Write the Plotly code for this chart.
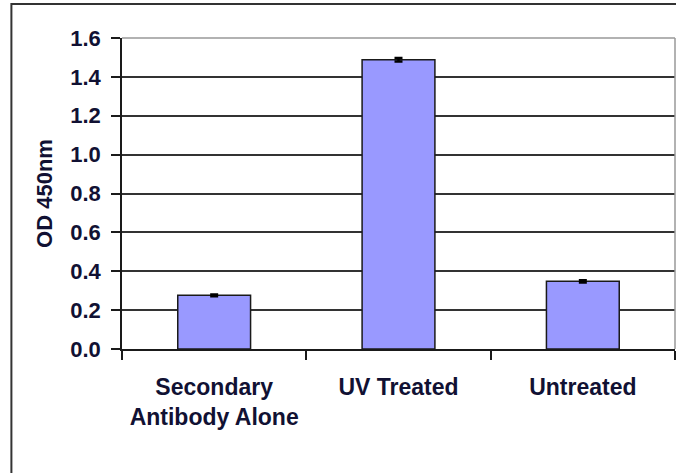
import plotly.graph_objects as go

categories = ["Secondary<br>Antibody Alone", "UV Treated", "Untreated"]
od_values = [0.276, 1.488, 0.348]
od_errors = [0.005, 0.009, 0.006]
y_ticks = [0.0, 0.2, 0.4, 0.6, 0.8, 1.0, 1.2, 1.4, 1.6]

text_color = "#111133"
font_family = "Liberation Sans, Arial, sans-serif"

fig = go.Figure()
fig.add_trace(go.Bar(
    x=categories,
    y=od_values,
    marker=dict(color="#9999FF", line=dict(color="#1a1a1a", width=1.5)),
    error_y=dict(type="data", array=od_errors, visible=True,
                 color="#000000", thickness=2.5, width=4),
    width=0.395,
))

fig.update_layout(
    width=676, height=473,
    margin=dict(l=122, r=1, t=38, b=124, pad=0),
    paper_bgcolor="white", plot_bgcolor="white",
    showlegend=False,
    font=dict(family=font_family, color=text_color, size=20),
    xaxis=dict(
        type="category",
        range=[-0.5, 2.5],
        showgrid=False,
        showline=True, linecolor="#1a1a1a", linewidth=1.5,
        ticks="outside", tickson="boundaries", ticklen=9, tickwidth=1.5,
        tickcolor="#1a1a1a",
        ticklabelstandoff=17,
        tickfont=dict(family=font_family, size=23, color=text_color, weight="bold"),
    ),
    yaxis=dict(
        range=[0, 1.6],
        tickvals=y_ticks,
        tickformat=".1f",
        showgrid=True, gridcolor="#333333", gridwidth=1.5,
        zeroline=False,
        showline=True, linecolor="#1a1a1a", linewidth=1.5,
        ticks="outside", ticklen=9, tickwidth=1.5, tickcolor="#1a1a1a",
        ticklabelstandoff=6,
        tickfont=dict(family=font_family, size=22, color=text_color, weight="bold"),
        title=dict(text="OD 450nm", standoff=12,
                   font=dict(family=font_family, size=22, color=text_color, weight="bold")),
    ),
    shapes=[
        dict(type="line", xref="paper", yref="paper", x0=0, x1=1, y0=1, y1=1,
             line=dict(color="#999999", width=1.5), layer="above"),
        dict(type="line", xref="paper", yref="paper", x0=1, x1=1, y0=0, y1=1,
             line=dict(color="#999999", width=1.5), layer="above"),
        dict(type="rect", xref="paper", yref="paper",
             x0=-0.2, x1=1.2, y0=-0.6, y1=1.109,
             line=dict(color="#333333", width=2), layer="above"),
    ],
)

fig.write_html("out.html", config={"displayModeBar": False})

with open("out.html", "r", encoding="utf-8") as f:
    html = f.read()
html = html.replace("<body>", '<body style="margin:0;padding:0;overflow:hidden">', 1)
with open("out.html", "w", encoding="utf-8") as f:
    f.write(html)
